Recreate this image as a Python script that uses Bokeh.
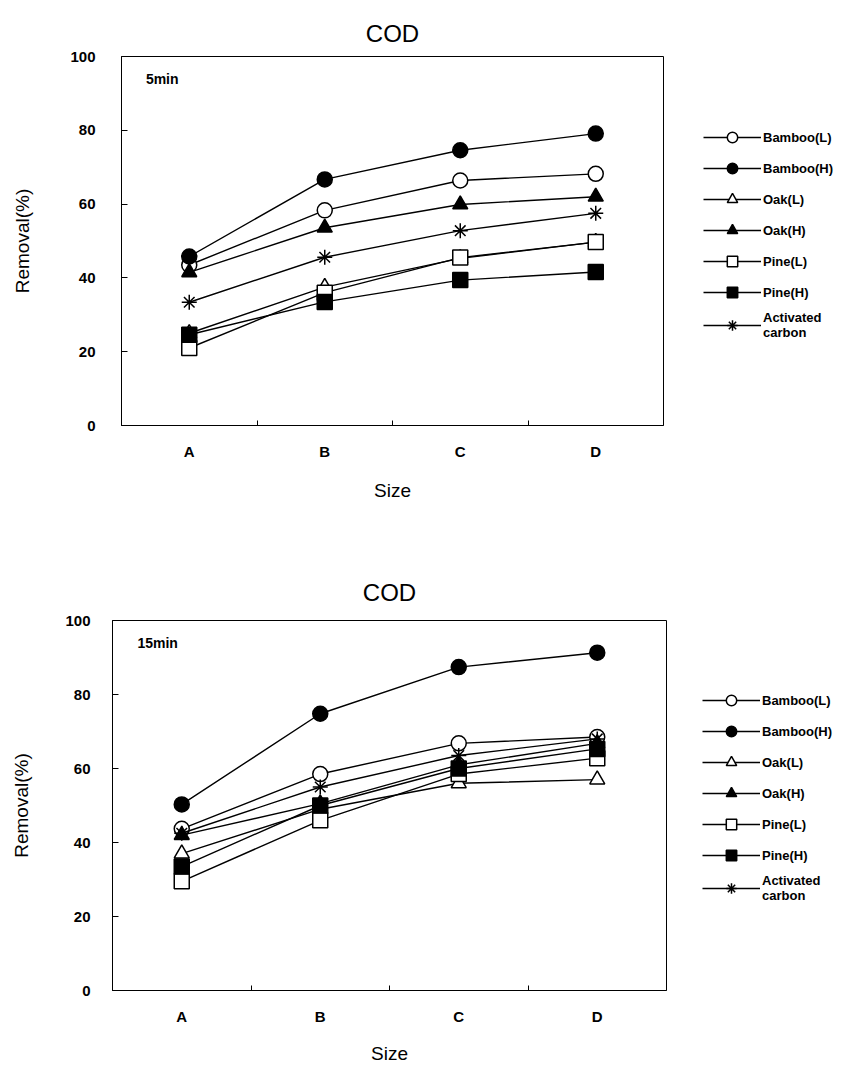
from bokeh.plotting import figure
from bokeh.layouts import column, row
from bokeh.models import Legend, LegendItem, FixedTicker, Label, Range1d
from bokeh.embed import file_html
from bokeh.resources import INLINE

# ---- data ----
sizes = ["A", "B", "C", "D"]
series_names = ["Bamboo(L)", "Bamboo(H)", "Oak(L)", "Oak(H)", "Pine(L)", "Pine(H)", "Activated\ncarbon"]

# 5 min
bamboo_l_5 = [43.5, 58.3, 66.4, 68.2]
bamboo_h_5 = [45.8, 66.7, 74.6, 79.1]
oak_l_5 = [25.0, 37.5, 45.3, 49.7]
oak_h_5 = [41.5, 53.6, 59.9, 62.0]
pine_l_5 = [21.0, 36.0, 45.5, 49.7]
pine_h_5 = [24.6, 33.5, 39.4, 41.6]
ac_5 = [33.4, 45.6, 52.8, 57.5]

# 15 min
bamboo_l_15 = [43.7, 58.5, 66.8, 68.5]
bamboo_h_15 = [50.3, 74.8, 87.4, 91.3]
oak_l_15 = [37.0, 49.0, 56.0, 57.0]
oak_h_15 = [42.0, 50.5, 61.0, 66.8]
pine_l_15 = [29.5, 46.0, 58.5, 62.8]
pine_h_15 = [33.5, 50.0, 60.0, 65.3]
ac_15 = [42.5, 55.0, 63.5, 68.0]

y_ticks = [0, 20, 40, 60, 80, 100]

# ---- styles ----
styles = [
    ("circle", "white"),
    ("circle", "black"),
    ("triangle", "white"),
    ("triangle", "black"),
    ("square", "white"),
    ("square", "black"),
    ("asterisk", "black"),
]
FONT = "Liberation Sans"


def make_chart(note, series, fl, ft, fw, fh, total_h, legend_x, legend_top,
               title_standoff, tick_standoff, label_standoff, x_label_standoff):
    xs = [i + 1 for i in range(len(sizes))]
    total_w = 867
    p = figure(output_backend="svg", toolbar_location=None,
               frame_width=fw, frame_height=fh,
               min_border_left=fl, min_border_top=ft,
               min_border_right=total_w - fl - fw,
               min_border_bottom=total_h - ft - fh,
               x_range=Range1d(0.5, len(sizes) + 0.5),
               y_range=Range1d(0, 100))
    p.background_fill_color = "white"
    p.border_fill_color = "white"
    p.outline_line_color = "black"
    p.outline_line_width = 1
    p.xgrid.visible = False
    p.ygrid.visible = False

    p.title.text = "COD"
    p.title.align = "center"
    p.title.text_font = FONT
    p.title.text_font_size = "24px"
    p.title.text_font_style = "normal"
    p.title.text_color = "black"
    p.title.standoff = title_standoff

    xa = p.xaxis[0]
    xa.ticker = FixedTicker(ticks=xs, minor_ticks=[x + 0.5 for x in xs[:-1]])
    xa.major_label_overrides = {x: s for x, s in zip(xs, sizes)}
    xa.major_tick_in = 0
    xa.major_tick_out = 0
    xa.minor_tick_in = 5
    xa.minor_tick_out = 0
    xa.major_label_standoff = 17
    xa.major_label_text_font = FONT
    xa.major_label_text_font_size = "15px"
    xa.major_label_text_font_style = "bold"
    xa.major_label_text_color = "black"
    xa.axis_label = "Size"
    xa.axis_label_text_font = FONT
    xa.axis_label_text_font_size = "19px"
    xa.axis_label_text_font_style = "normal"
    xa.axis_label_text_color = "black"
    xa.axis_label_standoff = x_label_standoff
    xa.axis_line_color = "black"

    ya = p.yaxis[0]
    ya.ticker = FixedTicker(ticks=y_ticks)
    ya.major_tick_in = 6
    ya.major_tick_out = 0
    ya.minor_tick_in = 0
    ya.minor_tick_out = 0
    ya.major_label_standoff = tick_standoff
    ya.major_label_text_font = FONT
    ya.major_label_text_font_size = "15px"
    ya.major_label_text_font_style = "bold"
    ya.major_label_text_color = "black"
    ya.axis_label = "Removal(%)"
    ya.axis_label_text_font = FONT
    ya.axis_label_text_font_size = "19px"
    ya.axis_label_text_font_style = "normal"
    ya.axis_label_text_color = "black"
    ya.axis_label_standoff = label_standoff
    ya.axis_line_color = "black"

    items = []
    for name, vals, (mk, fill) in zip(series_names, series, styles):
        lr = p.line(xs, vals, line_color="black", line_width=1.4)
        sr = p.scatter(xs, vals, marker=mk, size=15, fill_color=fill,
                       line_color="black", line_width=1.5)
        items.append(LegendItem(label=name, renderers=[lr, sr]))

    n = len(items)
    gh, sp = 26, 5
    leg_h = n * gh + (n - 1) * sp
    legend = Legend(items=items, location=(legend_x, fh - legend_top - leg_h),
                    glyph_width=58, glyph_height=gh, spacing=sp,
                    label_standoff=2, padding=0, margin=0,
                    border_line_alpha=0, background_fill_alpha=0,
                    label_text_font=FONT, label_text_font_size="13px",
                    label_text_font_style="bold", label_text_color="black",
                    label_height=gh)
    p.add_layout(legend, "right")

    p.add_layout(Label(x=0.68, y=94, text=note, text_font=FONT,
                       text_font_size="14px", text_font_style="bold",
                       text_color="black", text_baseline="middle"))
    return p


p1 = make_chart("5min",
                [bamboo_l_5, bamboo_h_5, oak_l_5, oak_h_5, pine_l_5, pine_h_5, ac_5],
                121, 56, 542, 369, 560, 40, 72, 20, 26, 34, 17)
p2 = make_chart("15min",
                [bamboo_l_15, bamboo_h_15, oak_l_15, oak_h_15, pine_l_15, pine_h_15, ac_15],
                112, 60, 554, 370, 506, 36, 71, 29, 22, 30, 15)

layout = column(row(p1), row(p2), spacing=0)
open("out.html", "w").write(file_html(layout, INLINE))
